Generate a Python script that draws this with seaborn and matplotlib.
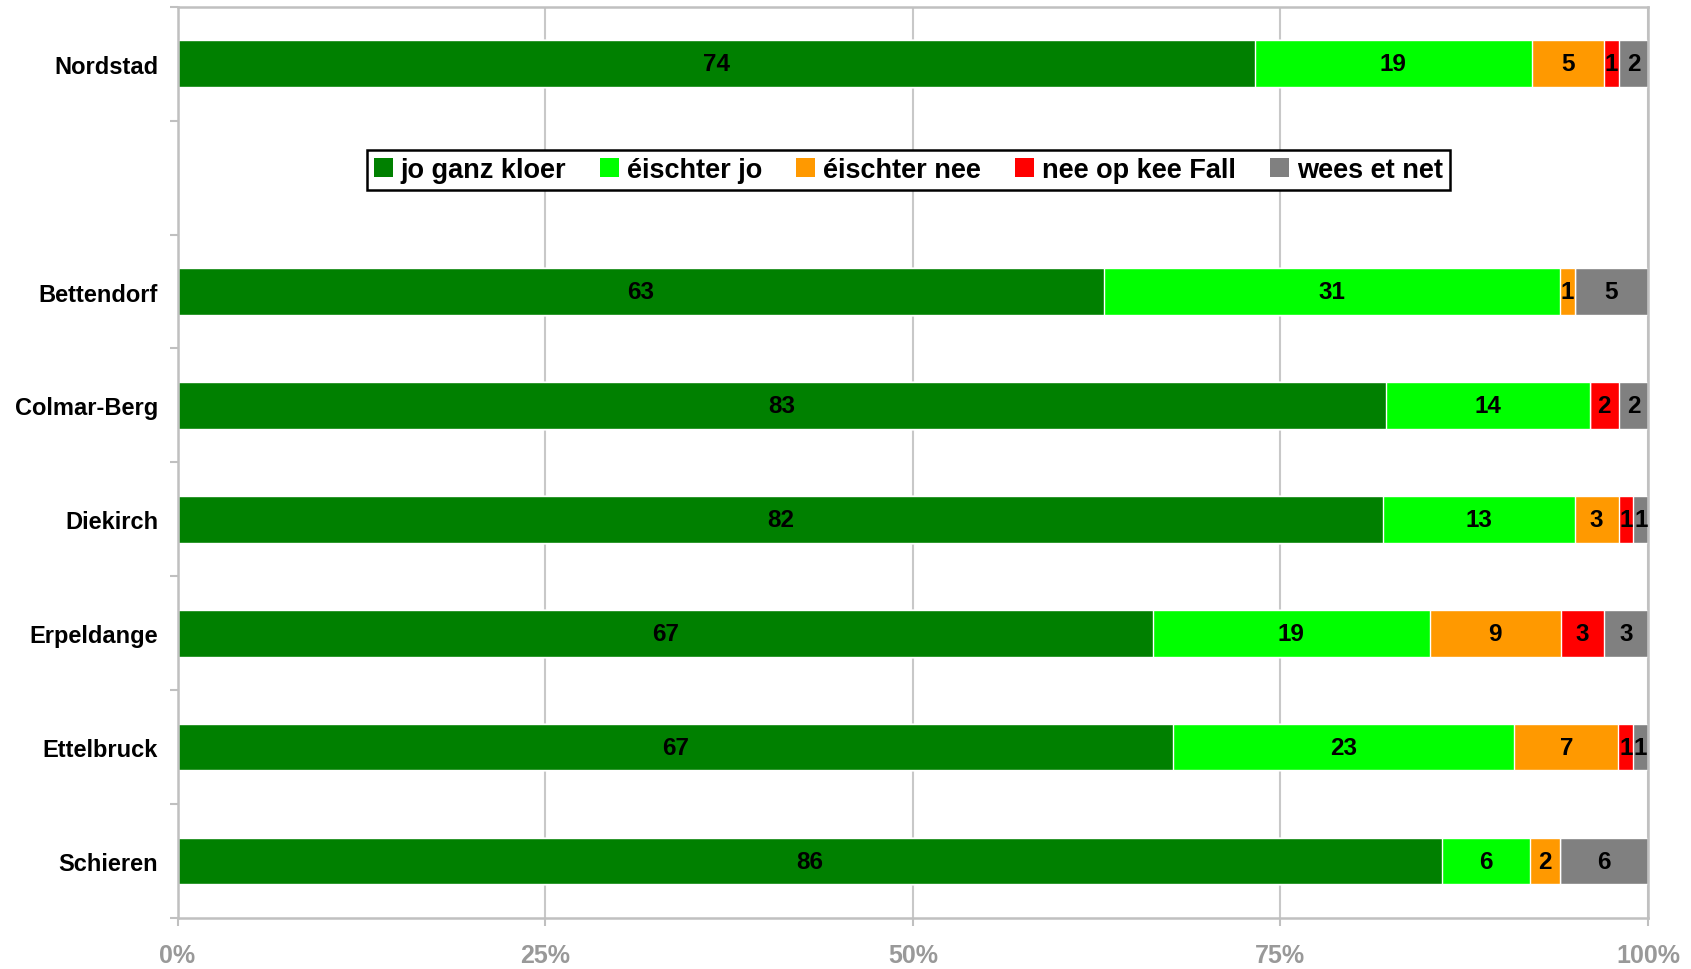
import numpy as np
import pandas as pd
import matplotlib
matplotlib.use("Agg")
import matplotlib.pyplot as plt
from matplotlib.patches import Patch
import seaborn as sns

# data (percent of answers per commune)
gemengen = ["Nordstad", "Bettendorf", "Colmar-Berg", "Diekirch", "Erpeldange", "Ettelbruck", "Schieren"]
jo_ganz_kloer = [74, 63, 83, 82, 67, 67, 86]
eischter_jo = [19, 31, 14, 13, 19, 23, 6]
eischter_nee = [5, 1, 0, 3, 9, 7, 2]
nee_op_kee_fall = [1, 0, 2, 1, 3, 1, 0]
wees_et_net = [2, 5, 2, 1, 3, 1, 6]

series_names = ["jo ganz kloer", "éischter jo", "éischter nee", "nee op kee Fall", "wees et net"]
series_values = [jo_ganz_kloer, eischter_jo, eischter_nee, nee_op_kee_fall, wees_et_net]
colors = ["#008000", "#00FF00", "#FF9900", "#FF0000", "#808080"]

# empty row between Nordstad and the rest (legend sits there)
order = ["Nordstad", " ", "Bettendorf", "Colmar-Berg", "Diekirch", "Erpeldange", "Ettelbruck", "Schieren"]

sns.set_theme(style="white")
plt.rcParams["font.family"] = ["Liberation Sans", "DejaVu Sans"]
plt.rcParams["font.weight"] = "bold"
plt.rcParams["text.color"] = "black"

vals = np.array(series_values, dtype=float)  # shape (series, gemeng)
pct = vals / vals.sum(axis=0) * 100
cum = np.cumsum(pct, axis=0)

fig, ax = plt.subplots(figsize=(16.91, 9.70), dpi=100)
fig.subplots_adjust(left=0.105, right=0.9746, top=0.992, bottom=0.0526)

# stacked bars: draw cumulative totals from the end so each layer covers the next
for i in reversed(range(len(series_names))):
    layer = pd.DataFrame({"Gemeng": gemengen, "cum": cum[i]})
    sns.barplot(data=layer, x="cum", y="Gemeng", order=order, color=colors[i],
                width=0.41, errorbar=None, saturation=1, orient="h", ax=ax)

# value labels in the middle of each segment
for j, g in enumerate(gemengen):
    row = order.index(g)
    for i in range(len(series_names)):
        if series_values[i][j] > 0:
            ax.text(cum[i][j] - pct[i][j] / 2, row, str(series_values[i][j]),
                    ha="center", va="center", fontsize=17.5, fontweight="bold", color="black")

ax.set_xlim(0, 100)
ax.set_ylim(len(order) - 0.5, -0.5)
ax.set_xlabel("")
ax.set_ylabel("")

ax.set_xticks([0, 25, 50, 75, 100])
ax.set_xticklabels(["0%", "25%", "50%", "75%", "100%"])
ax.set_yticks(np.arange(len(order)))
ax.set_yticklabels(order)
ax.set_yticks(np.arange(-0.5, len(order), 1), minor=True)

ax.tick_params(axis="x", which="major", bottom=True, length=6, width=1.5, color="#C0C0C0",
               labelcolor="#999999", labelsize=18, pad=12)
ax.tick_params(axis="y", which="major", left=False, length=0, labelsize=17, pad=14, labelcolor="black")
ax.tick_params(axis="y", which="minor", left=True, length=6, width=1.5, color="#C0C0C0")
for lab in ax.get_xticklabels() + ax.get_yticklabels():
    lab.set_fontweight("bold")

ax.grid(axis="x", color="#C8C8C8", linewidth=1.5)
ax.grid(axis="y", visible=False)
ax.set_axisbelow(True)
for sp in ax.spines.values():
    sp.set_visible(True)
    sp.set_color("#C0C0C0")
    sp.set_linewidth(1.8)

handles = [Patch(facecolor=c, edgecolor="none") for c in colors]
leg = ax.legend(handles, series_names, loc="center", bbox_to_anchor=(0.497, 0.821), ncol=5,
                frameon=True, fancybox=False, framealpha=1, edgecolor="black",
                handlelength=0.7, handleheight=0.7, handletextpad=0.3, columnspacing=1.25,
                borderpad=0.25, labelcolor="black", prop={"size": 19.5, "weight": "bold"})
leg.get_frame().set_linewidth(1.8)

fig.savefig("out.png", dpi=100)
